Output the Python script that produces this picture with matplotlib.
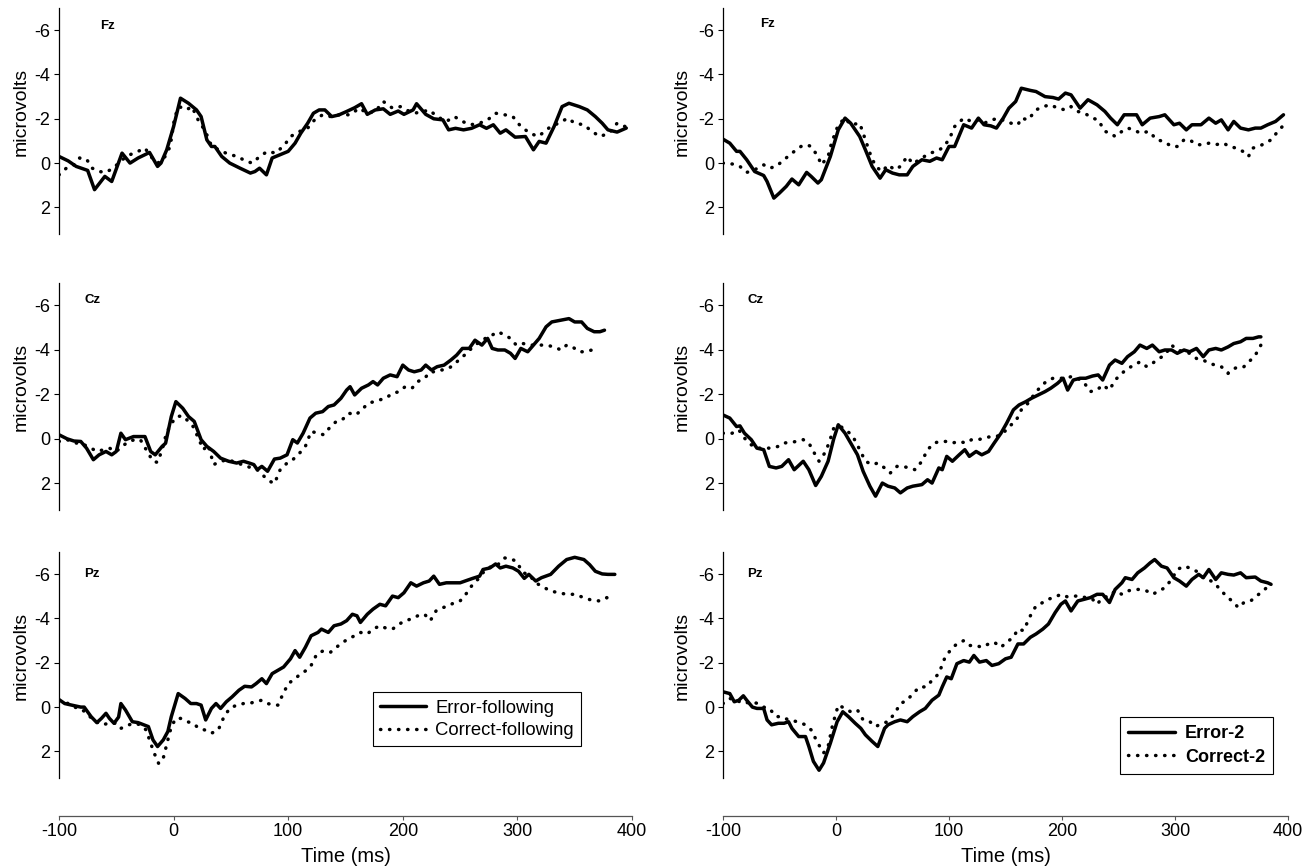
import matplotlib
matplotlib.use("Agg")
import matplotlib.pyplot as plt

plt.rcParams["font.family"] = ["Liberation Sans", "DejaVu Sans"]
plt.rcParams["axes.unicode_minus"] = False

# ---------------------------------------------------------------------------
# ERP waveforms: (time ms, amplitude microvolts)
# ---------------------------------------------------------------------------
fz_err_left = [(-100,-0.3),(-92,-0.1),(-85,0.15),(-75,0.33),(-69,1.2),(-60,0.6),(-54,0.83),(-45,-0.45),(-38,0.0),(-31,-0.23),(-21,-0.48),(-14,0.15),(-11,0.0),(-6,-0.6),(0,-1.65),(6,-2.93),(13,-2.7),(20,-2.4),(24,-2.1),(29,-1.05),(33,-0.75),(36,-0.75),(42,-0.3),(49,0.0),(58,0.23),(67,0.45),(71,0.38),(75,0.23),(81,0.53),(86,-0.23),(93,-0.38),(100,-0.53),(106,-0.9),(111,-1.35),(117,-1.8),(122,-2.25),(127,-2.4),(132,-2.4),(138,-2.1),(144,-2.17),(151,-2.33),(158,-2.5),(164,-2.68),(169,-2.2),(176,-2.4),(183,-2.45),(189,-2.2),(196,-2.35),(201,-2.2),(209,-2.4),(212,-2.68),(220,-2.2),(227,-2.0),(235,-1.95),(240,-1.5),(246,-1.57),(253,-1.5),(260,-1.57),(267,-1.73),(273,-1.57),(279,-1.73),(285,-1.35),(290,-1.5),(298,-1.17),(307,-1.2),(314,-0.6),(319,-0.98),(325,-0.9),(332,-1.65),(339,-2.55),(345,-2.7),(354,-2.55),(361,-2.4),(368,-2.1),(374,-1.8),(379,-1.5),(387,-1.4),(395,-1.58)]
fz_cor_left = [(-100,0.53),(-93,0.2),(-87,0.08),(-82,-0.23),(-76,-0.18),(-71,0.23),(-65,0.38),(-59,0.42),(-52,0.2),(-45,-0.15),(-38,-0.38),(-31,-0.53),(-25,-0.68),(-20,-0.3),(-14,0.0),(-9,-0.15),(-3,-0.75),(1,-2.1),(5,-2.55),(11,-2.4),(16,-2.55),(22,-1.88),(28,-1.43),(31,-0.98),(34,-0.75),(42,-0.53),(49,-0.38),(56,-0.3),(63,-0.08),(69,0.0),(75,-0.3),(82,-0.53),(89,-0.45),(97,-0.83),(102,-1.2),(110,-1.43),(117,-1.58),(123,-1.95),(130,-2.18),(137,-2.1),(142,-2.18),(149,-2.18),(154,-2.18),(162,-2.48),(169,-2.25),(176,-2.33),(183,-2.78),(191,-2.48),(198,-2.55),(203,-2.4),(210,-2.25),(218,-2.33),(223,-2.4),(230,-2.1),(238,-1.88),(245,-2.1),(252,-1.88),(259,-1.73),(267,-1.8),(274,-1.95),(281,-2.25),(289,-2.18),(296,-2.1),(303,-1.65),(311,-1.35),(318,-1.2),(324,-1.43),(329,-1.65),(336,-1.8),(344,-2.03),(350,-1.8),(358,-1.73),(365,-1.43),(372,-1.2),(380,-1.35),(387,-1.8),(394,-1.65)]

cz_err_left = [(-100,-0.18),(-93,0.0),(-87,0.1),(-81,0.12),(-76,0.42),(-70,0.94),(-65,0.72),(-59,0.57),(-54,0.72),(-50,0.57),(-46,-0.25),(-42,0.04),(-35,-0.1),(-29,-0.1),(-25,-0.1),(-20,0.57),(-16,0.72),(-10,0.34),(-7,0.2),(-2,-1.0),(2,-1.67),(8,-1.37),(13,-1.0),(18,-0.78),(24,0.04),(29,0.34),(35,0.57),(41,0.87),(48,1.01),(55,1.09),(61,1.01),(66,1.09),(70,1.16),(73,1.39),(77,1.24),(82,1.46),(88,0.91),(93,0.87),(99,0.72),(104,0.04),(108,0.19),(113,-0.25),(119,-0.93),(124,-1.15),(130,-1.22),(135,-1.45),(140,-1.52),(146,-1.82),(151,-2.19),(154,-2.34),(158,-1.97),(164,-2.27),(170,-2.42),(174,-2.57),(178,-2.42),(183,-2.72),(189,-2.87),(195,-2.79),(200,-3.31),(205,-3.09),(210,-3.01),(216,-3.09),(220,-3.31),(225,-3.09),(230,-3.24),(236,-3.31),(242,-3.54),(247,-3.76),(252,-4.06),(258,-4.06),(263,-4.43),(269,-4.21),(274,-4.51),(278,-4.06),(283,-3.99),(289,-3.99),(294,-3.84),(298,-3.61),(303,-4.06),(309,-3.91),(314,-4.21),(319,-4.51),(325,-5.03),(330,-5.25),(338,-5.33),(345,-5.4),(350,-5.25),(356,-5.25),(361,-4.96),(367,-4.81),(372,-4.81),(376,-4.88)]
cz_cor_left = [(-100,0.12),(-93,0.04),(-85,0.19),(-78,0.27),(-72,0.42),(-67,0.57),(-61,0.49),(-56,0.42),(-50,0.57),(-45,0.34),(-39,0.12),(-34,0.04),(-29,0.04),(-23,0.57),(-18,1.01),(-14,1.06),(-10,0.49),(-7,-0.1),(-3,-0.63),(3,-1.0),(8,-1.03),(13,-0.78),(17,-0.55),(21,-0.1),(26,0.49),(30,0.27),(35,1.16),(41,1.01),(48,0.94),(55,1.09),(60,1.16),(68,1.31),(73,1.39),(79,1.69),(84,1.91),(88,2.01),(93,1.39),(99,1.09),(104,0.94),(110,0.64),(115,0.34),(120,-0.33),(126,-0.25),(131,-0.18),(137,-0.55),(142,-0.78),(147,-0.85),(153,-1.15),(159,-1.07),(164,-1.3),(170,-1.6),(175,-1.67),(180,-1.75),(185,-1.82),(191,-2.04),(197,-2.12),(202,-2.34),(208,-2.27),(213,-2.57),(219,-2.72),(224,-3.01),(229,-3.01),(234,-3.09),(240,-3.16),(246,-3.39),(250,-3.61),(256,-3.84),(261,-4.13),(267,-4.36),(272,-4.51),(278,-4.66),(283,-4.81),(289,-4.66),(294,-4.51),(299,-4.21),(305,-4.28),(310,-4.21),(318,-4.21),(325,-4.21),(332,-4.13),(338,-3.99),(343,-4.21),(348,-4.13),(354,-3.91),(359,-3.91),(365,-3.99),(370,-4.21)]

pz_err_left = [(-100,-0.34),(-95,-0.16),(-89,-0.09),(-81,0.0),(-78,0.0),(-72,0.43),(-67,0.7),(-63,0.51),(-59,0.28),(-56,0.51),(-52,0.73),(-48,0.45),(-46,-0.16),(-42,0.13),(-36,0.66),(-31,0.7),(-26,0.8),(-22,0.88),(-18,1.48),(-14,1.78),(-9,1.48),(-5,1.1),(-2,0.43),(4,-0.61),(10,-0.39),(15,-0.16),(20,-0.16),(24,-0.09),(28,0.58),(33,0.06),(37,-0.16),(41,0.06),(46,-0.24),(51,-0.46),(57,-0.76),(62,-0.94),(68,-0.91),(72,-1.06),(77,-1.28),(81,-1.06),(86,-1.51),(91,-1.66),(96,-1.81),(102,-2.18),(106,-2.55),(110,-2.25),(115,-2.7),(120,-3.22),(126,-3.37),(129,-3.52),(135,-3.37),(140,-3.67),(146,-3.75),(151,-3.9),(156,-4.19),(160,-4.12),(163,-3.82),(169,-4.19),(174,-4.42),(180,-4.64),(185,-4.57),(191,-5.01),(196,-4.94),(201,-5.16),(207,-5.61),(212,-5.46),(218,-5.61),(223,-5.69),(227,-5.91),(232,-5.54),(238,-5.61),(245,-5.61),(250,-5.61),(256,-5.72),(261,-5.81),(267,-5.91),(270,-6.21),(276,-6.28),(281,-6.46),(285,-6.28),(290,-6.36),(296,-6.28),(301,-6.13),(306,-5.81),(310,-5.99),(316,-5.69),(321,-5.84),(329,-5.99),(336,-6.36),(343,-6.66),(350,-6.76),(358,-6.66),(363,-6.43),(368,-6.13),(374,-6.01),(379,-5.99),(385,-5.99)]
pz_cor_left = [(-100,-0.31),(-92,-0.16),(-87,0.0),(-81,0.06),(-76,0.28),(-70,0.58),(-63,0.8),(-56,0.73),(-50,0.73),(-46,0.96),(-39,0.8),(-34,0.73),(-29,0.8),(-24,1.03),(-20,1.63),(-17,2.07),(-13,2.55),(-9,2.3),(-5,1.48),(-2,0.88),(2,0.51),(6,0.51),(12,0.66),(17,0.73),(22,0.96),(27,1.03),(33,1.18),(39,1.03),(44,0.43),(49,0.06),(55,-0.09),(61,-0.16),(66,-0.16),(71,-0.24),(77,-0.31),(82,-0.16),(88,-0.09),(91,-0.09),(95,-0.54),(100,-1.06),(106,-1.28),(111,-1.51),(116,-1.66),(120,-1.88),(125,-2.4),(131,-2.55),(137,-2.48),(142,-2.7),(148,-2.93),(152,-3.07),(158,-3.22),(163,-3.37),(169,-3.3),(174,-3.52),(180,-3.67),(185,-3.57),(191,-3.52),(197,-3.75),(202,-3.9),(207,-3.97),(213,-4.12),(219,-4.19),(224,-3.9),(229,-4.34),(235,-4.49),(240,-4.57),(245,-4.72),(250,-4.79),(256,-5.16),(261,-5.54),(267,-5.84),(272,-6.21),(278,-6.36),(283,-6.43),(289,-6.73),(294,-6.7),(299,-6.58),(305,-6.06),(310,-5.99),(316,-5.61),(321,-5.46),(329,-5.24),(336,-5.16),(343,-5.09),(350,-5.09),(358,-4.94),(365,-4.82),(372,-4.79),(378,-4.94),(383,-4.79)]

fz_err_right = [(-100,-1.08),(-94,-0.9),(-88,-0.53),(-85,-0.53),(-79,-0.15),(-72,0.38),(-64,0.56),(-61,0.83),(-55,1.58),(-50,1.35),(-44,1.05),(-39,0.72),(-33,0.98),(-26,0.42),(-22,0.6),(-16,0.9),(-13,0.75),(-5,-0.3),(2,-1.5),(8,-2.03),(13,-1.8),(21,-1.2),(26,-0.6),(32,0.15),(39,0.68),(44,0.3),(50,0.45),(56,0.53),(63,0.53),(68,0.15),(76,-0.15),(83,-0.08),(89,-0.23),(94,-0.15),(100,-0.75),(105,-0.75),(113,-1.73),(120,-1.58),(126,-2.03),(131,-1.73),(137,-1.68),(142,-1.58),(148,-2.03),(153,-2.48),(159,-2.78),(164,-3.38),(172,-3.28),(177,-3.23),(185,-3.0),(192,-2.96),(197,-2.89),(203,-3.16),(208,-3.08),(216,-2.48),(223,-2.86),(231,-2.63),(238,-2.33),(243,-2.03),(249,-1.73),(255,-2.18),(260,-2.18),(266,-2.18),(271,-1.73),(278,-2.03),(286,-2.1),(291,-2.18),(299,-1.73),(304,-1.8),(310,-1.5),(315,-1.73),(323,-1.73),(330,-2.03),(336,-1.8),(341,-1.95),(347,-1.5),(352,-1.88),(358,-1.58),(365,-1.5),(371,-1.58),(376,-1.58),(382,-1.73),(389,-1.88),(396,-2.18)]
fz_cor_right = [(-100,0.0),(-90,0.05),(-85,0.15),(-79,0.42),(-72,0.3),(-64,0.08),(-59,0.23),(-53,0.15),(-46,-0.15),(-39,-0.45),(-31,-0.75),(-26,-0.83),(-22,-0.75),(-16,-0.3),(-13,0.08),(-7,-0.3),(-4,-0.9),(2,-1.73),(8,-2.03),(13,-1.73),(21,-1.8),(24,-1.35),(30,-0.45),(35,0.15),(41,0.38),(46,0.08),(52,0.3),(57,0.15),(63,-0.3),(68,0.03),(76,-0.23),(83,-0.45),(89,-0.53),(94,-0.68),(100,-1.05),(105,-1.65),(113,-2.03),(120,-1.88),(126,-1.95),(131,-1.8),(138,-1.95),(144,-2.03),(150,-1.88),(155,-1.8),(161,-1.73),(164,-2.03),(170,-1.95),(177,-2.4),(183,-2.55),(190,-2.63),(196,-2.48),(203,-2.4),(208,-2.55),(214,-2.33),(220,-2.25),(227,-2.03),(232,-1.95),(238,-1.43),(243,-1.35),(247,-1.2),(253,-1.43),(258,-1.58),(264,-1.5),(269,-1.35),(277,-1.43),(284,-1.05),(290,-0.98),(297,-0.75),(302,-0.75),(308,-1.05),(313,-1.05),(319,-0.83),(325,-0.83),(330,-0.9),(336,-0.83),(343,-0.9),(348,-0.75),(354,-0.68),(360,-0.53),(365,-0.3),(369,-0.68),(374,-0.75),(380,-0.9),(385,-1.05),(391,-1.43),(395,-1.65)]

cz_err_right = [(-100,-1.07),(-94,-0.93),(-88,-0.55),(-85,-0.58),(-81,-0.25),(-75,0.04),(-70,0.42),(-64,0.49),(-59,1.24),(-53,1.31),(-48,1.24),(-42,0.94),(-37,1.39),(-29,1.01),(-24,1.39),(-18,2.1),(-13,1.69),(-7,1.01),(-2,0.0),(2,-0.63),(8,-0.25),(13,0.19),(19,0.72),(24,1.46),(30,2.13),(35,2.58),(41,1.99),(46,2.13),(52,2.21),(57,2.43),(63,2.21),(68,2.13),(76,2.06),(81,1.84),(85,1.99),(91,1.31),(94,1.39),(98,0.79),(103,1.01),(109,0.72),(114,0.49),(118,0.79),(124,0.57),(129,0.72),(135,0.57),(140,0.19),(146,-0.25),(151,-0.7),(157,-1.3),(162,-1.52),(168,-1.67),(173,-1.82),(179,-1.97),(185,-2.12),(190,-2.27),(196,-2.49),(201,-2.72),(205,-2.19),(210,-2.64),(216,-2.72),(221,-2.72),(227,-2.82),(232,-2.87),(236,-2.64),(242,-3.31),(247,-3.54),(253,-3.39),(258,-3.69),(264,-3.91),(269,-4.21),(275,-4.06),(280,-4.21),(286,-3.91),(291,-3.99),(297,-3.99),(302,-3.84),(308,-3.99),(313,-3.91),(319,-4.06),(325,-3.69),(330,-3.99),(336,-4.06),(341,-3.99),(347,-4.13),(352,-4.28),(358,-4.36),(363,-4.51),(369,-4.51),(374,-4.58),(376,-4.58)]
cz_cor_right = [(-100,-0.25),(-92,-0.25),(-86,-0.4),(-81,-0.03),(-75,0.27),(-69,0.42),(-64,0.42),(-57,0.42),(-51,0.34),(-46,0.19),(-40,0.16),(-35,0.12),(-29,0.04),(-24,0.19),(-20,0.57),(-15,1.01),(-9,0.57),(-5,0.0),(-2,-0.48),(4,-0.55),(9,-0.4),(15,-0.1),(21,0.49),(26,1.01),(32,1.16),(37,1.09),(43,1.31),(48,1.54),(54,1.24),(59,1.24),(65,1.31),(70,1.39),(76,1.01),(81,0.49),(87,0.19),(92,0.12),(98,0.12),(103,0.19),(109,0.12),(115,0.19),(120,0.04),(126,0.04),(131,-0.03),(137,-0.1),(142,-0.1),(148,-0.25),(153,-0.55),(159,-0.78),(164,-1.3),(170,-1.6),(175,-1.97),(181,-2.34),(186,-2.57),(192,-2.72),(197,-2.72),(203,-2.72),(208,-2.79),(214,-2.72),(220,-2.49),(225,-2.12),(231,-2.19),(236,-2.42),(242,-2.19),(247,-2.64),(253,-2.94),(258,-3.16),(264,-3.31),(269,-3.46),(275,-3.24),(280,-3.39),(286,-3.61),(291,-3.76),(297,-4.21),(302,-3.99),(308,-3.91),(313,-3.84),(319,-3.61),(325,-3.54),(330,-3.39),(336,-3.31),(341,-3.24),(347,-2.94),(350,-3.09),(356,-3.24),(361,-3.24),(367,-3.54),(372,-3.84),(376,-4.21)]

pz_err_right = [(-100,-0.69),(-94,-0.61),(-90,-0.24),(-86,-0.31),(-82,-0.51),(-79,-0.31),(-74,0.0),(-70,0.06),(-64,0.06),(-61,0.58),(-57,0.8),(-51,0.73),(-46,0.73),(-42,0.66),(-39,0.96),(-33,1.33),(-27,1.33),(-24,1.78),(-20,2.45),(-15,2.85),(-11,2.52),(-5,1.63),(1,0.66),(6,0.21),(11,0.43),(17,0.73),(22,0.96),(26,1.25),(32,1.55),(37,1.78),(43,0.96),(46,0.8),(52,0.66),(57,0.58),(63,0.66),(68,0.43),(74,0.21),(79,0.06),(85,-0.31),(91,-0.54),(94,-0.91),(98,-1.36),(102,-1.28),(107,-1.96),(113,-2.1),(118,-2.03),(122,-2.33),(127,-2.03),(133,-2.1),(138,-1.88),(144,-1.96),(150,-2.18),(155,-2.25),(161,-2.85),(166,-2.85),(172,-3.15),(177,-3.3),(183,-3.52),(188,-3.75),(194,-4.27),(199,-4.64),(203,-4.79),(208,-4.34),(214,-4.79),(220,-4.87),(225,-4.94),(231,-5.09),(236,-5.09),(242,-4.72),(247,-5.31),(253,-5.61),(256,-5.84),(262,-5.76),(267,-6.06),(273,-6.28),(278,-6.51),(282,-6.66),(288,-6.36),(293,-6.28),(299,-5.84),(304,-5.69),(310,-5.46),(315,-5.76),(321,-5.99),(325,-5.84),(330,-6.21),(336,-5.76),(341,-6.06),(347,-5.99),(352,-5.96),(358,-6.06),(363,-5.84),(371,-5.87),(376,-5.69),(382,-5.61),(385,-5.54)]
pz_cor_right = [(-100,-0.16),(-94,-0.39),(-88,-0.31),(-82,-0.16),(-75,-0.24),(-69,-0.16),(-64,0.0),(-59,0.06),(-53,0.43),(-48,0.43),(-42,0.58),(-34,0.66),(-27,0.8),(-22,1.03),(-16,1.63),(-11,2.07),(-7,1.78),(-3,0.8),(2,-0.09),(8,0.06),(13,0.21),(19,0.13),(24,0.58),(30,0.66),(35,0.88),(41,0.73),(46,0.66),(52,0.28),(57,-0.16),(63,-0.31),(68,-0.61),(74,-0.91),(80,-0.91),(85,-1.21),(91,-1.51),(96,-2.18),(102,-2.63),(107,-2.85),(113,-3.0),(118,-2.78),(124,-2.78),(129,-2.7),(135,-2.85),(140,-2.93),(146,-2.7),(151,-2.93),(157,-3.15),(161,-3.52),(166,-3.45),(172,-4.12),(177,-4.57),(183,-4.72),(188,-4.87),(194,-4.97),(199,-5.09),(205,-4.97),(210,-5.01),(216,-5.01),(221,-4.94),(227,-4.87),(231,-4.64),(236,-4.94),(242,-5.01),(247,-5.24),(253,-5.09),(258,-5.24),(264,-5.31),(269,-5.31),(275,-5.24),(280,-5.09),(286,-5.24),(291,-5.39),(297,-5.76),(302,-6.21),(308,-6.36),(313,-6.28),(319,-6.13),(325,-5.84),(330,-5.76),(336,-5.54),(341,-5.24),(347,-4.94),(352,-4.72),(356,-4.49),(361,-4.72),(367,-4.79),(372,-5.01),(378,-5.24),(384,-5.54)]

channels = ["Fz", "Cz", "Pz"]
left_labels = ["Error-following", "Correct-following"]
right_labels = ["Error-2", "Correct-2"]
y_ticks = [-6, -4, -2, 0, 2]
x_ticks = [-100, 0, 100, 200, 300, 400]

left_series = [(fz_err_left, fz_cor_left), (cz_err_left, cz_cor_left), (pz_err_left, pz_cor_left)]
right_series = [(fz_err_right, fz_cor_right), (cz_err_right, cz_cor_right), (pz_err_right, pz_cor_right)]

# ---------------------------------------------------------------------------
# layout (pixels measured off the reference)
# ---------------------------------------------------------------------------
W, H = 1308, 867
col_x = [(59, 573), (723, 565)]
row_y = [(8, 234), (283, 510), (552, 778)]
label_pos = {0: [(0.085, 0.92), (0.058, 0.926), (0.057, 0.902)],
             1: [(0.079, 0.927), (0.057, 0.926), (0.057, 0.902)]}
ylabel_x = [-0.052, -0.057]

DOT = (0, (0.1, 2.5))
LW = 2.5

fig = plt.figure(figsize=(W / 100, H / 100), dpi=100)

for c, (series, labels) in enumerate([(left_series, left_labels), (right_series, right_labels)]):
    x0, w = col_x[c]
    for r in range(3):
        top, bot = row_y[r]
        ax = fig.add_axes([x0 / W, 1 - bot / H, w / W, (bot - top) / H])
        err, cor = series[r]
        t_e, v_e = zip(*err)
        t_c, v_c = zip(*cor)
        ax.plot(t_e, v_e, color="black", lw=LW, solid_capstyle="round", label=labels[0])
        ax.plot(t_c, v_c, color="black", lw=LW, linestyle=DOT,
                dash_capstyle="round", label=labels[1])

        ax.set_xlim(-100, 400)
        ax.set_ylim(3.2, -7)
        ax.set_yticks(y_ticks)
        ax.set_yticklabels([str(v) for v in y_ticks])
        ax.tick_params(axis="y", labelsize=13, length=3.5, width=0.8, pad=3)
        for s in ["top", "right"]:
            ax.spines[s].set_visible(False)
        ax.spines["left"].set_linewidth(0.9)
        ax.set_ylabel("microvolts", fontsize=14)
        ax.yaxis.set_label_coords(ylabel_x[c], 0.54)

        lx, ly = label_pos[c][r]
        ax.text(lx, ly, channels[r], transform=ax.transAxes, ha="center", va="center",
                fontsize=9.5, fontweight="bold")

        if r < 2:
            ax.spines["bottom"].set_visible(False)
            ax.set_xticks([])
        else:
            ax.spines["bottom"].set_position(("outward", 27.4))
            ax.spines["bottom"].set_color("#555555")
            ax.spines["bottom"].set_linewidth(0.9)
            ax.set_xticks(x_ticks)
            ax.set_xticklabels([str(v) for v in x_ticks])
            ax.tick_params(axis="x", labelsize=13, length=3, width=0.8, pad=2, color="#555555")
            ax.set_xlabel("Time (ms)", fontsize=14.5, labelpad=5)

            if c == 0:
                leg = ax.legend(loc="upper left", bbox_to_anchor=(0.548, 0.38), borderaxespad=0,
                                fontsize=13.3, handlelength=2.47, handletextpad=0.5,
                                labelspacing=0.3, borderpad=0.4, fancybox=False,
                                framealpha=1, edgecolor="black")
            else:
                leg = ax.legend(loc="upper left", bbox_to_anchor=(0.703, 0.269), borderaxespad=0,
                                prop={"size": 13, "weight": "bold"}, handlelength=2.6,
                                handletextpad=0.55, labelspacing=0.35, borderpad=0.45,
                                fancybox=False, framealpha=1, edgecolor="black")
            leg.get_frame().set_linewidth(0.8)

fig.savefig("out.png", dpi=100)
